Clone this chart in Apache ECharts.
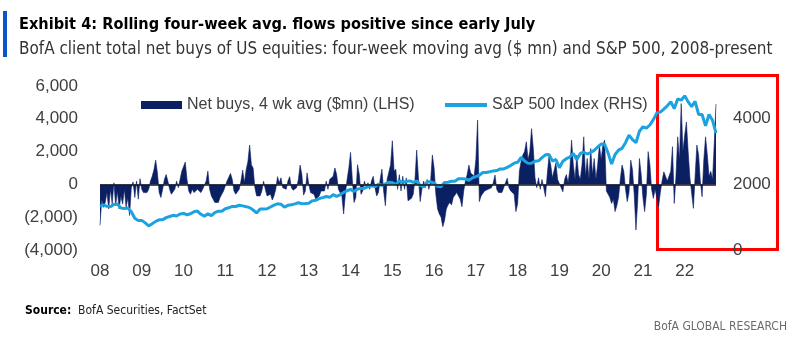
<!DOCTYPE html>
<html>
<head>
<meta charset="utf-8">
<script src="https://cdn.jsdelivr.net/npm/echarts@6/dist/echarts.min.js"></script>
<style>html,body{margin:0;padding:0;background:#fff}#c{width:800px;height:344px}</style>
</head>
<body>
<div id="c"></div>
<script>
// ---- Data ----
// Net buys, 4wk avg ($mn): two readings per month, starting Jan 2008
const flows2008 = [-2500,-900,-1400,-1100,-500,-1500,-300,-1200,100,-1300,-400,-1500,-700,-1200,-300,-1400,-800,-1900,-200,150,-800,200,-900,350];
const flows2009 = [-300,-500,-400,-500,-300,200,500,900,1480,700,-500,-800,-300,300,600,200,-300,-600,-500,-300,200,-200,300,800];
const flows2010 = [700,1360,300,-400,-600,-300,-500,-600,-300,-400,-500,-300,-400,200,810,-300,-700,-900,-1100,-1200,-1100,-800,-600,-400];
const flows2011 = [-300,200,100,670,300,-400,-600,-500,-300,200,870,100,900,1400,2400,1200,1000,-200,-700,-600,-700,-400,200,-300];
const flows2012 = [-700,-800,-600,-950,-700,-300,470,100,400,-200,-300,-300,200,470,-200,-350,-300,-200,300,1180,600,-650,-400,700];
const flows2013 = [0,-500,-500,-600,-900,-900,-700,-400,-300,-400,200,-300,300,200,500,1000,600,-300,-200,-700,-1800,-600,300,1000];
const flows2014 = [1950,300,-1100,-800,1200,600,-600,-400,200,-200,100,-300,200,490,-200,-700,-500,300,930,-400,-1300,300,200,1200];
const flows2015 = [2660,800,930,-300,600,-400,500,-300,400,-1000,-900,-850,-600,300,2090,400,-1050,-300,200,-200,300,-300,200,1790];
const flows2016 = [1000,-600,-1500,-1800,-2000,-2580,-2200,-1500,-1250,-1100,-1250,-800,-650,-500,-600,-900,-1360,-400,200,600,1180,700,800,500];
const flows2017 = [1500,3920,-1050,-700,-700,-400,-500,-300,-400,-200,100,570,-300,-500,-400,-500,-200,100,370,-200,-400,-300,-600,-1660];
const flows2018 = [-1200,800,1400,1800,2000,2600,1500,2000,3400,2200,400,-200,400,-300,300,-200,-750,600,1690,1200,400,870,1300,300];
const flows2019 = [300,-200,-450,300,600,100,900,2700,1200,300,1790,600,300,1200,2900,500,1580,300,2190,600,1580,300,1200,2400];
const flows2020 = [1500,2400,2700,-400,-500,-800,-1160,-900,-1660,-1300,-800,300,1180,800,-300,-1050,-500,1480,900,-600,-2780,-1000,1580,600];
const flows2021 = [-800,-1660,-600,2000,1200,-300,-850,-300,-800,-1360,-500,200,770,500,200,300,800,2300,-1160,500,2900,1500,4930,2000];
const flows2022 = [3000,3800,2000,400,300,-1460,500,2400,1800,200,-750,1500,2900,1800,500,800,300,2500,4900];

// S&P 500 Index: start value, then month-end levels
const spxStart = 1340;
const spx2008 = [1378,1330,1323,1386,1400,1280,1267,1283,1166,969,896,903];
const spx2009 = [826,735,798,873,919,919,987,1021,1057,1036,1096,1115];
const spx2010 = [1074,1104,1169,1187,1089,1031,1102,1049,1141,1183,1181,1258];
const spx2011 = [1286,1327,1326,1364,1345,1321,1292,1219,1131,1253,1247,1258];
const spx2012 = [1312,1366,1408,1398,1310,1362,1379,1407,1441,1412,1416,1426];
const spx2013 = [1498,1515,1569,1598,1631,1606,1686,1633,1682,1757,1806,1848];
const spx2014 = [1783,1859,1872,1884,1924,1960,1931,2003,1972,2018,2068,2059];
const spx2015 = [1995,2105,2068,2086,2107,2063,2104,1972,1920,2079,2080,2044];
const spx2016 = [1940,1932,2060,2065,2097,2099,2174,2171,2168,2126,2199,2239];
const spx2017 = [2279,2364,2363,2384,2412,2423,2470,2472,2519,2575,2648,2674];
const spx2018 = [2824,2714,2641,2648,2705,2718,2816,2902,2914,2712,2760,2507];
const spx2019 = [2704,2784,2834,2946,2752,2942,2980,2926,2977,3038,3141,3231];
const spx2020 = [3226,2954,2620,2912,3044,3100,3271,3500,3363,3270,3622,3756];
const spx2021 = [3714,3811,3973,4181,4204,4298,4395,4523,4308,4605,4567,4700];
const spx2022 = [4516,4374,4530,4132,4132,3785,4130,3955,3560];

const tickYears = ['08','09','10','11','12','13','14','15','16','17','18','19','20','21','22'];
const startYear = 2008;

const seriesNames = ['Net buys, 4 wk avg ($mn) (LHS)', 'S&P 500 Index (RHS)'];

// ---- Build series data ----
const flowsAll = [].concat(flows2008,flows2009,flows2010,flows2011,flows2012,flows2013,flows2014,flows2015,flows2016,flows2017,flows2018,flows2019,flows2020,flows2021,flows2022);
const flowData = flowsAll.map((v,i) => [startYear + i/24, v]);
const spxAll = [].concat(spx2008,spx2009,spx2010,spx2011,spx2012,spx2013,spx2014,spx2015,spx2016,spx2017,spx2018,spx2019,spx2020,spx2021,spx2022);
const spxData = [[startYear, spxStart]].concat(spxAll.map((v,i) => [startYear + (i+1)/12, v]));
const xEnd = startYear + (flowsAll.length-1)/24;

const navy = '#0b1f63';
const sky = '#1ba3e1';
const grey = '#404040';
const narrow = "'DejaVu Sans Condensed','Liberation Sans Narrow',sans-serif";
const sans = "'Liberation Sans',Arial,sans-serif";

function fmtThousands(n){ return String(n).replace(/\B(?=(\d{3})+(?!\d))/g, ','); }

const chart = echarts.init(document.getElementById('c'), null, {renderer:'canvas'});
chart.setOption({
  animation: false,
  backgroundColor: '#ffffff',
  textStyle: {fontFamily: sans},
  title: [
    {text: 'Exhibit 4: Rolling four-week avg. flows positive since early July', left: 14, top: 12,
     textStyle: {fontFamily: narrow, fontWeight: 'bold', fontSize: 16.2, color: '#000'}},
    {text: 'BofA client total net buys of US equities: four-week moving avg ($ mn) and S&P 500, 2008-present', left: 14, top: 36,
     textStyle: {fontFamily: narrow, fontWeight: 'normal', fontSize: 16.95, color: '#333'}}
  ],
  legend: [
    {data: [seriesNames[0]], left: 136, top: 92, itemWidth: 41, itemHeight: 8, icon: 'rect', selectedMode: false,
     textStyle: {fontSize: 16, color: grey, fontFamily: sans}},
    {data: [seriesNames[1]], left: 440, top: 92, itemWidth: 42, itemHeight: 4, icon: 'rect', selectedMode: false,
     textStyle: {fontSize: 16, color: grey, fontFamily: sans}}
  ],
  grid: {left: 100, right: 84, top: 86, bottom: 94},
  xAxis: {
    type: 'value', min: startYear, max: xEnd, interval: 1,
    axisLine: {show: false}, axisTick: {show: false}, splitLine: {show: false},
    axisLabel: {color: grey, fontSize: 17, margin: 13, showMaxLabel: false,
      formatter: v => { const k = Math.round(v - startYear); return (Math.abs(v - startYear - k) < 1e-6 && tickYears[k]) ? tickYears[k] : ''; }}
  },
  yAxis: [
    {type: 'value', min: -4000, max: 6000, interval: 2000, position: 'left',
     axisLine: {show: false}, axisTick: {show: false}, splitLine: {show: false},
     axisLabel: {color: grey, fontSize: 17, margin: 22,
       formatter: v => v < 0 ? '(' + fmtThousands(-v) + ')' : fmtThousands(v)}},
    {type: 'value', min: 0, max: 5000, interval: 2000, position: 'right',
     axisLine: {show: false}, axisTick: {show: false}, splitLine: {show: false},
     axisLabel: {color: grey, fontSize: 17, margin: 17, showMaxLabel: false, formatter: v => String(v)}}
  ],
  series: [
    {name: seriesNames[0], type: 'line', yAxisIndex: 0, data: flowData, symbol: 'none', z: 2,
     color: navy, lineStyle: {width: 0.6, color: navy}, areaStyle: {color: navy, opacity: 1},
     markLine: {silent: true, symbol: 'none', label: {show: false},
       lineStyle: {color: '#1a1a1a', width: 1.5, type: 'solid'}, data: [{yAxis: 0}]}},
    {name: seriesNames[1], type: 'line', yAxisIndex: 1, data: spxData, symbol: 'none', z: 3,
     color: sky, lineStyle: {width: 3, color: sky}}
  ],
  graphic: [
    {type: 'rect', left: 3, top: 11, shape: {width: 4, height: 46}, style: {fill: '#0a55c8'}},
    {type: 'rect', left: 655, top: 73, shape: {width: 120, height: 174}, style: {fill: 'none', stroke: '#ff0000', lineWidth: 3}},
    {type: 'text', left: 25, top: 305, style: {text: '{b|Source:}  BofA Securities, FactSet', font: "12px " + narrow, fill: '#222',
      rich: {b: {fontWeight: 'bold', fontFamily: narrow, fontSize: 12, fill: '#000'}}}},
    {type: 'text', right: 13, top: 321, style: {text: 'BofA GLOBAL RESEARCH', font: "12px " + narrow, fill: '#6b6b6b'}}
  ]
});
</script>
</body>
</html>
